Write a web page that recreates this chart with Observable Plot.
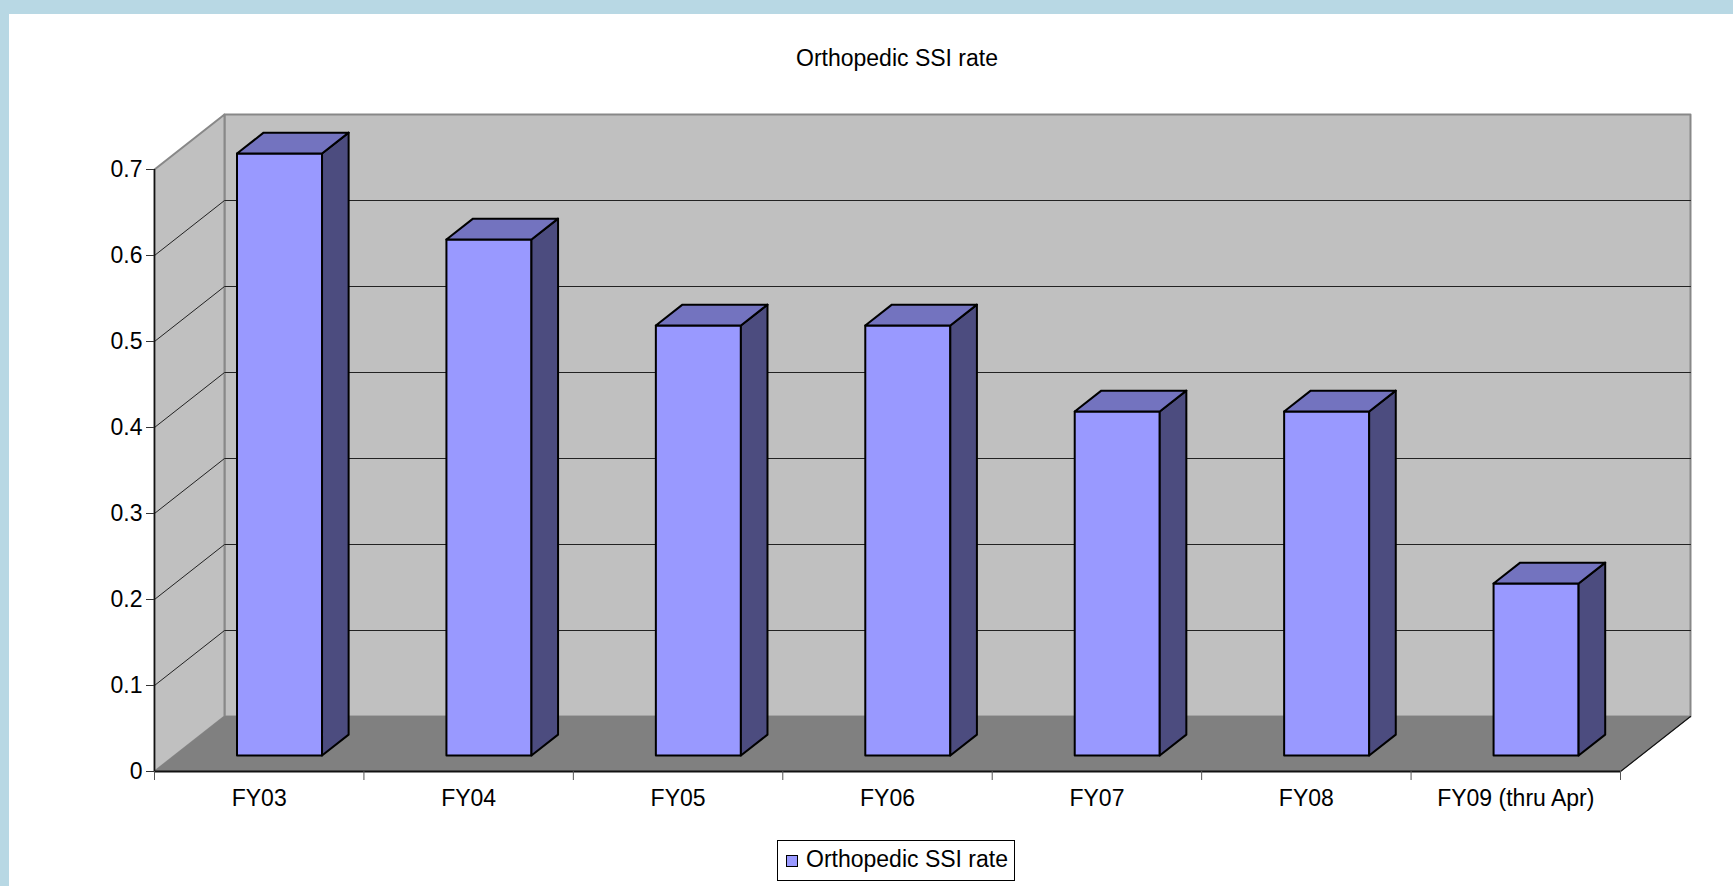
<!DOCTYPE html>
<html>
<head>
<meta charset="utf-8">
<script src="https://cdn.jsdelivr.net/npm/d3@7"></script>
<script src="https://cdn.jsdelivr.net/npm/@observablehq/plot@0.6"></script>
<style>
  html, body { margin: 0; padding: 0; width: 1733px; height: 886px; overflow: hidden; background: #B8D8E4; font-family: "Liberation Sans", Arial, sans-serif; }
  #panel { position: absolute; left: 9px; top: 14px; right: 0; bottom: 0; background: #fff; }
  #chart { position: absolute; left: 0; top: 0; }
  #title { position: absolute; left: 0; width: 1794px; top: 45px; text-align: center; font-size: 23px; color: #000; }
  #legend { position: absolute; left: 777px; top: 840px; width: 236px; height: 39px; border: 1px solid #000; background: #fff; font-size: 23px; color: #000; }
  #legend .sw { position: absolute; left: 8px; top: 14px; width: 10px; height: 10px; background: #9999FF; border: 1px solid #000; }
  #legend .lb { position: absolute; left: 28px; top: 5px; white-space: nowrap; }
</style>
</head>
<body>
<div id="panel"></div>
<div id="chart"></div>
<div id="title">Orthopedic SSI rate</div>
<div id="legend"><div class="sw"></div><div class="lb">Orthopedic SSI rate</div></div>
<script>
// ---- data ----
const categories = ["FY03", "FY04", "FY05", "FY06", "FY07", "FY08", "FY09 (thru Apr)"];
const ssiRate = [0.7, 0.6, 0.5, 0.5, 0.4, 0.4, 0.2];
const yTicks = [0, 0.1, 0.2, 0.3, 0.4, 0.5, 0.6, 0.7];
const seriesName = "Orthopedic SSI rate";

// ---- 3D projection parameters (in data units) ----
const n = categories.length;
const yMax = 0.7;
const DX = 70 / (1466 / n);   // depth shift along x (category units)
const DY = 55 / (602 / yMax); // depth shift along y (value units)
const hw = 0.203;             // half bar width (category units)
const f1 = 0.29, f2 = 0.67;   // bar depth front/back fractions

// walls
const sideWall = [[0,0],[0,yMax],[DX,yMax+DY],[DX,DY],[0,0]].map(([x,y]) => ({x,y}));
const backWall = [[DX,DY],[DX,yMax+DY],[n+DX,yMax+DY],[n+DX,DY],[DX,DY]].map(([x,y]) => ({x,y}));
const floor = [[0,0],[n,0],[n+DX,DY],[DX,DY],[0,0]].map(([x,y]) => ({x,y}));

// gridlines (side wall diagonal + back wall horizontal)
const grid = [];
yTicks.filter(v => v > 0 && v < yMax).forEach((v, k) => {
  grid.push({id: k, x: 0, y: v}, {id: k, x: DX, y: v + DY}, {id: k, x: n + DX, y: v + DY});
});

// bar faces
const fronts = [], tops = [], sides = [];
ssiRate.forEach((v, i) => {
  const c = i + 0.5;
  const xl = c - hw, xr = c + hw;
  const poly = (arr, pts) => pts.concat([pts[0]]).forEach(([x,y]) => arr.push({id: i, x, y}));
  poly(fronts, [[xl+f1*DX, f1*DY], [xr+f1*DX, f1*DY], [xr+f1*DX, v+f1*DY], [xl+f1*DX, v+f1*DY]]);
  poly(tops,   [[xl+f1*DX, v+f1*DY], [xr+f1*DX, v+f1*DY], [xr+f2*DX, v+f2*DY], [xl+f2*DX, v+f2*DY]]);
  poly(sides,  [[xr+f1*DX, f1*DY], [xr+f1*DX, v+f1*DY], [xr+f2*DX, v+f2*DY], [xr+f2*DX, f2*DY]]);
});

const centers = categories.map((_, i) => i + 0.5);
const bounds = d3.range(0, n + 1);

const chart = Plot.plot({
  width: 1733,
  height: 886,
  marginLeft: 154,
  marginRight: 113,
  marginTop: 169,
  marginBottom: 115,
  style: { background: "transparent", fontFamily: "'Liberation Sans', Arial, sans-serif", overflow: "visible", color: "#000" },
  x: { type: "linear", domain: [0, n] },
  y: { type: "linear", domain: [0, yMax] },
  marks: [
    Plot.line(backWall, { x: "x", y: "y", fill: "#C0C0C0", stroke: "#888", strokeWidth: 2 }),
    Plot.line(sideWall, { x: "x", y: "y", fill: "#C0C0C0", stroke: "#888", strokeWidth: 2 }),
    Plot.line(floor, { x: "x", y: "y", fill: "#808080", stroke: "#808080", strokeWidth: 1 }),
    Plot.line(grid, { x: "x", y: "y", z: "id", stroke: "#222", strokeWidth: 1 }),
    // floor right edge
    Plot.line([{x: n, y: 0}, {x: n + DX, y: DY}], { x: "x", y: "y", stroke: "#111", strokeWidth: 1.2 }),
    // front axes
    Plot.ruleX([0], { y1: 0, y2: yMax, stroke: "#111", strokeWidth: 1.5 }),
    Plot.ruleY([0], { x1: 0, x2: n, stroke: "#111", strokeWidth: 2 }),
    // bars
    Plot.line(fronts, { x: "x", y: "y", z: "id", fill: "#9999FF", stroke: "#000", strokeWidth: 2, strokeLinejoin: "round" }),
    Plot.line(sides, { x: "x", y: "y", z: "id", fill: "#4C4C7F", stroke: "#000", strokeWidth: 2, strokeLinejoin: "round" }),
    Plot.line(tops, { x: "x", y: "y", z: "id", fill: "#7373BF", stroke: "#000", strokeWidth: 2, strokeLinejoin: "round" }),
    // axes
    Plot.axisY({ ticks: yTicks, tickSize: 8, tickPadding: 4, fontSize: 23, tickFormat: d => String(+d.toFixed(1)), label: null, stroke: "#333" }),
    Plot.axisX({ ticks: bounds, tickSize: 9, tickFormat: () => "", label: null, stroke: "#555" }),
    Plot.axisX({ ticks: centers, tickSize: 0, tickPadding: 18, fontSize: 23, tickFormat: d => categories[Math.floor(d)], label: null })
  ]
});
document.getElementById("chart").appendChild(chart);
</script>
</body>
</html>
